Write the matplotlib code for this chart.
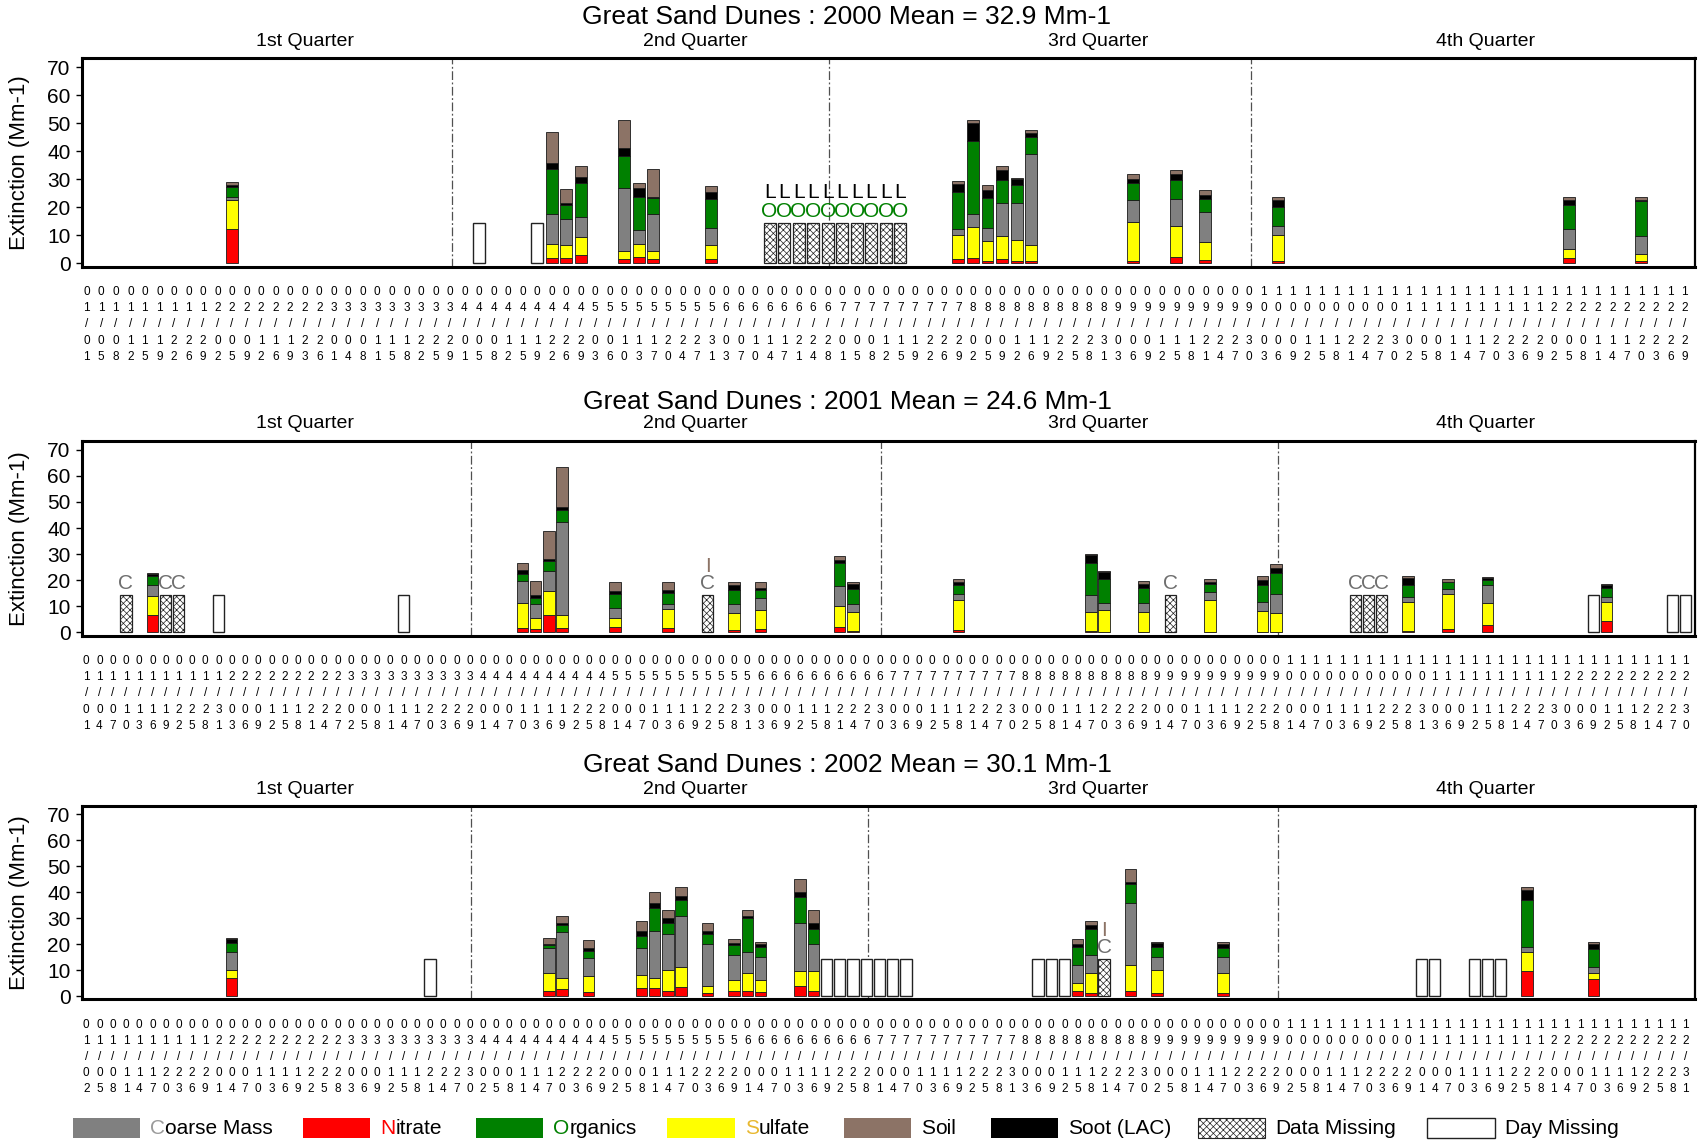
import matplotlib
matplotlib.use('Agg')
import matplotlib.pyplot as plt
import pandas as pd
from matplotlib.patches import Rectangle

plt.rcParams['font.family'] = ['Liberation Sans', 'DejaVu Sans']
plt.rcParams['hatch.linewidth'] = 0.5

# ---------------- x categories (sampling days) ----------------
_ws = pd.date_range('2000-01-01', '2000-08-19', freq='W-WED').union(
    pd.date_range('2000-01-01', '2000-08-19', freq='W-SAT'))
_e3 = pd.date_range('2000-08-22', '2000-12-29', freq='3D')
dates_2000 = [d.strftime('%m/%d') for d in _ws.union(_e3)]
dates_2001 = [d.strftime('%m/%d') for d in pd.date_range('2001-01-01', '2001-12-31', freq='3D')]
dates_2002 = [d.strftime('%m/%d') for d in pd.date_range('2002-01-02', '2002-12-31', freq='3D')]

# ---------------- 2000 ----------------
bars_2000 = ['02/05', '04/22', '04/26', '04/29', '05/10', '05/13', '05/17', '05/31',
             '07/29', '08/02', '08/05', '08/09', '08/12', '08/16', '09/06', '09/15',
             '09/21', '10/06', '12/05', '12/20']
nitrate_2000 = [12.2, 1.8, 1.8, 2.8, 1.4, 2.2, 1.6, 1.4, 1.4, 1.8, 0.8, 1.4, 0.8, 0.8, 0.8, 2.2, 1.2, 0.8, 1.8, 0.6]
sulfate_2000 = [10.2, 5.1, 4.8, 6.4, 2.8, 4.7, 2.8, 5.2, 8.8, 11.0, 7.2, 8.4, 7.6, 5.8, 13.9, 11.0, 6.3, 9.3, 3.3, 2.8]
coarse_2000 = [1.2, 10.8, 9.0, 7.3, 22.7, 5.1, 13.3, 6.0, 2.1, 4.6, 4.6, 11.7, 12.9, 32.5, 7.8, 9.8, 10.7, 3.1, 7.2, 6.2]
organics_2000 = [3.7, 15.8, 5.0, 12.2, 11.4, 11.7, 5.6, 10.4, 13.2, 26.3, 10.5, 8.2, 6.5, 6.0, 6.0, 6.7, 4.8, 6.8, 8.6, 12.5]
soot_2000 = [0.7, 2.4, 0.9, 2.2, 3.0, 3.2, 0.3, 2.5, 2.9, 6.2, 3.1, 3.4, 2.1, 1.3, 1.7, 2.0, 1.5, 2.7, 1.8, 0.4]
soil_2000 = [1.0, 10.8, 5.1, 3.8, 9.9, 1.8, 10.1, 2.0, 0.9, 1.3, 1.8, 1.6, 0.6, 1.1, 1.5, 1.6, 1.5, 1.0, 1.0, 1.2]
daymiss_2000 = ['04/05', '04/19']
datamiss_2000 = ['06/14', '06/17', '06/21', '06/24', '06/28', '07/01', '07/05', '07/08', '07/12', '07/15']
codes_2000 = ['OL'] * 10

# ---------------- 2001 ----------------
bars_2001 = ['01/16', '04/10', '04/13', '04/16', '04/19', '05/01', '05/13', '05/28', '06/03',
             '06/21', '06/24', '07/18', '08/17', '08/20', '08/29', '09/13', '09/25', '09/28',
             '10/28', '11/06', '11/15', '12/12']
nitrate_2001 = [6.7, 1.5, 1.3, 6.7, 1.8, 1.9, 1.7, 0.8, 1.3, 1.9, 0.4, 0.8, 0.4, 0.3, 0.3, 0.3, 0.3, 0.3, 0.5, 1.2, 2.8, 4.4]
sulfate_2001 = [7.4, 9.7, 4.1, 9.1, 4.7, 3.8, 7.2, 6.7, 7.4, 8.4, 7.5, 11.5, 7.3, 8.1, 7.4, 12.0, 8.0, 7.3, 11.1, 13.5, 8.4, 7.2]
coarse_2001 = [4.2, 8.4, 5.6, 7.7, 35.7, 3.6, 1.9, 3.3, 4.5, 7.3, 3.1, 2.4, 6.5, 2.8, 3.5, 3.2, 3.3, 7.3, 2.0, 2.1, 7.1, 2.0]
organics_2001 = [3.3, 2.6, 2.2, 3.9, 4.9, 5.6, 4.3, 5.3, 2.9, 9.1, 5.7, 3.6, 12.5, 9.3, 5.8, 3.1, 6.7, 8.0, 4.7, 2.4, 1.7, 3.4]
soot_2001 = [0.8, 1.6, 1.0, 0.9, 0.9, 0.9, 1.0, 2.2, 0.9, 0.9, 2.0, 0.9, 2.9, 2.6, 1.7, 0.6, 1.7, 1.9, 2.4, 0.3, 1.0, 1.3]
soil_2001 = [0.4, 2.9, 5.4, 10.4, 15.3, 3.6, 3.3, 1.1, 2.4, 1.5, 0.7, 1.1, 0.6, 0.3, 0.9, 1.1, 1.8, 1.5, 0.9, 1.1, 0.3, 0.3]
daymiss_2001 = ['01/31', '03/14', '12/09', '12/27', '12/30']
datamiss_2001 = ['01/10', '01/19', '01/22', '05/22', '09/04', '10/16', '10/19', '10/22']
codes_2001 = ['C', 'C', 'C', 'CI', 'C', 'C', 'C', 'C']

# ---------------- 2002 ----------------
bars_2002 = ['02/04', '04/17', '04/20', '04/26', '05/08', '05/11', '05/14', '05/17', '05/23',
             '05/29', '06/01', '06/04', '06/13', '06/16', '08/15', '08/18', '08/27', '09/02',
             '09/17', '11/25', '12/10']
nitrate_2002 = [7.0, 1.8, 2.8, 1.5, 3.0, 3.0, 2.0, 3.5, 1.0, 2.0, 2.0, 1.5, 4.0, 2.0, 2.0, 1.0, 2.0, 1.0, 1.0, 9.5, 6.5]
sulfate_2002 = [3.2, 7.2, 4.1, 6.1, 5.0, 4.0, 8.0, 7.5, 3.0, 4.0, 7.0, 4.5, 5.5, 7.5, 3.0, 8.0, 10.0, 9.0, 8.0, 7.5, 2.5]
coarse_2002 = [6.9, 9.4, 17.7, 7.0, 10.5, 18.0, 14.0, 20.0, 16.0, 10.0, 8.0, 9.0, 18.5, 10.5, 7.0, 7.0, 24.0, 5.0, 6.0, 2.0, 2.0]
organics_2002 = [3.2, 1.1, 2.8, 2.9, 4.5, 9.0, 4.0, 6.0, 4.0, 3.5, 13.0, 4.0, 10.0, 6.0, 7.0, 10.0, 7.0, 4.0, 3.5, 18.0, 7.0]
soot_2002 = [1.8, 0.6, 0.6, 1.1, 2.0, 2.0, 2.0, 1.5, 1.0, 1.0, 1.0, 1.0, 2.0, 2.0, 1.0, 1.5, 1.0, 1.5, 1.5, 4.0, 2.0]
soil_2002 = [0.3, 2.3, 3.0, 2.8, 4.0, 4.0, 3.0, 3.5, 3.0, 1.5, 2.0, 1.0, 5.0, 5.0, 2.0, 1.5, 5.0, 0.5, 1.0, 1.0, 1.0]
daymiss_2002 = ['03/21', '06/19', '06/22', '06/25', '06/28', '07/01', '07/04', '07/07',
                '08/06', '08/09', '08/12', '11/01', '11/04', '11/13', '11/16', '11/19']
datamiss_2002 = ['08/21']
codes_2002 = ['CI']

titles = ['Great Sand Dunes : 2000 Mean = 32.9 Mm-1',
          'Great Sand Dunes : 2001 Mean = 24.6 Mm-1',
          'Great Sand Dunes : 2002 Mean = 30.1 Mm-1']
quarter_names = ['1st Quarter', '2nd Quarter', '3rd Quarter', '4th Quarter']

# ---------------- styles ----------------
C_N, C_S, C_CM, C_OC, C_LAC, C_SOIL = '#FF0000', '#FFFF00', '#808080', '#008000', '#000000', '#8C7366'
stack_colors = [C_N, C_S, C_CM, C_OC, C_LAC, C_SOIL]
code_colors = {'C': '#6E6E6E', 'I': C_SOIL, 'O': C_OC, 'L': '#000000'}

W, H = 1568.0, 1049.0   # layout reference grid
fig = plt.figure(figsize=(17.07, 11.42), dpi=100)
ov = fig.add_axes([0, 0, 1, 1], zorder=-5)
ov.set_xlim(0, W); ov.set_ylim(H, 0); ov.axis('off')

panels = [
    (dates_2000, bars_2000, [nitrate_2000, sulfate_2000, coarse_2000, organics_2000, soot_2000, soil_2000],
     daymiss_2000, datamiss_2000, codes_2000),
    (dates_2001, bars_2001, [nitrate_2001, sulfate_2001, coarse_2001, organics_2001, soot_2001, soil_2001],
     daymiss_2001, datamiss_2001, codes_2001),
    (dates_2002, bars_2002, [nitrate_2002, sulfate_2002, coarse_2002, organics_2002, soot_2002, soil_2002],
     daymiss_2002, datamiss_2002, codes_2002),
]
rects = [(53, 245), (405, 584), (740, 918)]
title_y = [16, 369, 703]
qlab_y = [38, 389, 725]
qlab_x = [280, 639, 1009, 1365]
AX_L, AX_R = 75, 1557
MISS_H = 14.3

for p, (cats, bdates, comps, dmiss, damiss, codes) in enumerate(panels):
    top, bot = rects[p]
    ax = fig.add_axes([AX_L / W, 1 - bot / H, (AX_R - AX_L) / W, (bot - top) / H])
    pos = {d: i for i, d in enumerate(cats)}
    n = len(cats)
    bw = 0.82 if p == 0 else 0.86

    # quarter separators at last sample of each quarter
    months = [int(c[:2]) for c in cats]
    for qm in (3, 6, 9):
        last = max(i for i, m in enumerate(months) if m <= qm)
        ax.axvline(last + 0.12, color='#505050', lw=0.9, linestyle=(0, (7, 2, 1.5, 2)), zorder=1)

    # stacked bars
    xs = [pos[d] for d in bdates]
    base = [0.0] * len(xs)
    for vals, col in zip(comps, stack_colors):
        ax.bar(xs, vals, bottom=base, width=bw, color=col, edgecolor='#1a1a1a', linewidth=0.6, zorder=3)
        base = [b + v for b, v in zip(base, vals)]

    # day missing
    xd = [pos[d] for d in dmiss]
    ax.bar(xd, [MISS_H] * len(xd), width=bw, facecolor='white', edgecolor='#222222', linewidth=1.0, zorder=3)
    # data missing
    xm = [pos[d] for d in damiss]
    ax.bar(xm, [MISS_H] * len(xm), width=bw, facecolor='white', edgecolor='#222222', hatch='xxxxx',
           linewidth=0.9, zorder=3)
    for x, code in zip(xm, codes):
        for k, ch in enumerate(code):
            ax.text(x, 18.6 + 6.8 * k, ch, color=code_colors[ch], ha='center', va='center',
                    fontsize=15, zorder=4)

    ax.set_xlim(-0.35, n - 0.3)
    ax.set_ylim(-1.3, 73.4)
    ax.set_yticks(range(0, 71, 10))
    ax.set_xticks(range(n))
    ax.set_xticklabels(['\n'.join(c) for c in cats])
    for t in ax.get_xticklabels():
        t.set_linespacing(1.46)
    ax.tick_params(axis='x', length=0, pad=14, labelsize=8.5)
    ax.tick_params(axis='y', length=4, width=1, labelsize=15, pad=4)
    for s in ('top', 'bottom', 'left'):
        ax.spines[s].set_linewidth(2.2)
    ax.spines['right'].set_linewidth(1.6)
    ax.set_ylabel('Extinction (Mm-1)', fontsize=16)
    ax.yaxis.set_label_coords((28 - AX_L) / (AX_R - AX_L), 0.5)

    ov.text(778, title_y[p], titles[p], ha='center', va='center', fontsize=19)
    for qx, qn in zip(qlab_x, quarter_names):
        ov.text(qx, qlab_y[p], qn, ha='center', va='center', fontsize=14)

# ---------------- legend ----------------
leg_items = [('C', 'oarse Mass', C_CM, '#9A9A9A', 'solid'),
             ('N', 'itrate', C_N, C_N, 'solid'),
             ('O', 'rganics', C_OC, C_OC, 'solid'),
             ('S', 'ulfate', C_S, '#E8B830', 'solid'),
             ('S', 'oil', C_SOIL, '#000000', 'solid'),
             ('S', 'oot (LAC)', C_LAC, '#000000', 'solid'),
             ('D', 'ata Missing', 'white', '#000000', 'hatch'),
             ('D', 'ay Missing', 'white', '#000000', 'open')]
leg_x = [67, 278, 437, 613, 775, 910, 1100, 1311]
for (first, rest, fc, tc, kind), lx in zip(leg_items, leg_x):
    if kind == 'solid':
        r = Rectangle((lx, 1027), 62, 18, facecolor=fc, edgecolor='none')
    elif kind == 'hatch':
        r = Rectangle((lx, 1027), 62, 18, facecolor='white', edgecolor='#222222', hatch='xxxxx', lw=0.8)
    else:
        r = Rectangle((lx, 1027), 62, 18, facecolor='white', edgecolor='#222222', lw=1.0)
    ov.add_patch(r)
    t1 = ov.text(lx + 71, 1037, first, color=tc, fontsize=15, ha='left', va='center')
    ov.annotate(rest, xy=(1, 0), xycoords=t1, ha='left', va='bottom', fontsize=15, color='black')

fig.savefig('out.png', dpi=100)
